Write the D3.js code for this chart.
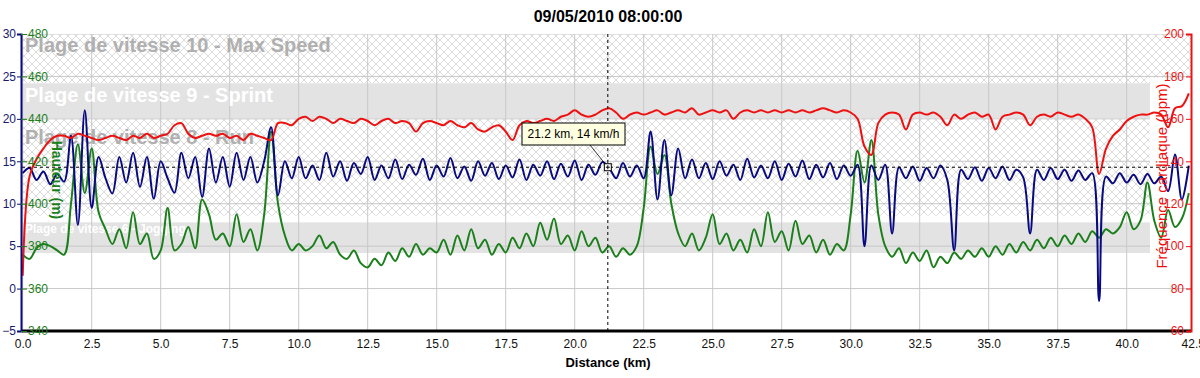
<!DOCTYPE html>
<html>
<head>
<meta charset="utf-8">
<script src="https://cdn.jsdelivr.net/npm/d3@7"></script>
<style>
body { margin: 0; background: #fff; }
text { font-family: "Liberation Sans", Arial, sans-serif; }
</style>
</head>
<body>
<script>
// values, one sample every 0.25 km
var stepKm = 0.25;
var speed = [13.6,14.2,12.8,13.8,12.3,13.5,12.6,18,7.5,21,9.5,15.5,13,11.2,15.5,12.5,16,12,15.5,10.6,
    15,13,11.3,16,13,15.5,10.8,16.5,12.5,15.5,12,16,12.8,15.5,12.5,15,19,11,15,13,
    15.5,13,14.5,12.8,16,13.2,15,12.7,14.8,13.5,15.5,12.8,14.5,13,15.2,12.9,14.6,13.4,15.3,12.8,
    14.5,13.2,15.4,13,14.4,12.7,15,13.3,14.8,12.9,14.5,13.1,15.2,12.8,14.6,13.3,15,12.9,14.7,13.2,
    15.1,12.8,14.6,13.4,14.9,14.2,13,14.8,13.2,14.5,13,18.5,10.5,17.5,11,16.5,13,15.2,13,14.8,
    12.9,15,13.3,14.6,12.8,15.3,13.1,14.5,13,15,12.8,14.7,13.2,15.1,12.9,14.6,13.1,14.8,12.9,14.5,
    13.3,14.6,5,14.5,12.8,14.6,6.5,14.3,13,14.4,12.7,14.2,13,14.5,12.8,4.5,14,12.9,14.3,12.7,
    14.2,13,14.4,12.8,14,13.1,6.5,14,12.8,14.2,12.9,14,12.7,13.9,12.8,13.6,-1.5,13.2,12.4,13.6,
    12.5,13.4,12.3,13.5,12.4,13.2,11.5,15.8,10.5,14.5];
var altitude = [376,374,379,381,380,378,376,400,428,405,426,396,388,381,388,379,396,381,386,374,
    378,398,378,381,389,379,402,395,383,386,380,395,382,388,378,395,434,400,385,378,
    381,378,380,385,379,382,376,374,378,372,370,374,371,377,373,379,375,381,376,379,
    377,383,376,385,378,388,379,383,376,381,377,384,379,386,380,391,383,393,381,385,
    378,387,380,384,377,380,375,379,376,380,398,427,414,423,400,386,380,386,378,384,
    395,381,386,378,383,377,388,380,396,382,387,378,392,381,385,377,383,376,381,378,
    395,425,410,430,395,380,375,379,372,377,373,378,370,375,372,377,374,378,375,379,
    375,380,376,381,377,382,378,383,379,384,380,385,381,386,382,387,384,388,386,389,
    396,388,392,410,392,384,397,389,393,405];
var heartRate = [86,133,141,146,150,152,152,151,153,152,151,150,151,152,151,150,152,151,153,151,
    152,153,157,158,153,151,152,153,152,153,151,152,150,153,152,151,150,158,158,157,
    160,161,159,161,160,158,160,159,158,160,159,157,159,160,158,159,158,154,158,159,
    158,157,159,157,156,158,155,154,156,157,154,150,157,159,158,159,160,159,161,162,
    164,162,161,162,164,165,163,160,162,163,162,163,164,162,163,164,163,165,162,163,
    164,163,164,160,163,164,163,164,163,164,163,164,163,164,163,164,165,164,163,164,
    163,160,147,143,158,162,163,162,155,162,163,162,163,161,157,162,160,162,163,161,
    162,155,161,162,163,162,157,161,162,161,163,162,161,162,160,156,134,146,152,155,
    159,161,162,162,163,162,156,165,166,172];

var xTicks = [0,2.5,5,7.5,10,12.5,15,17.5,20,22.5,25,27.5,30,32.5,35,37.5,40,42.5];
var speedTicks = [-5,0,5,10,15,20,25,30];
var altTicks = [340,360,380,400,420,440,460,480];
var hrTicks = [60,80,100,120,140,160,180,200];

// speed zones (km/h)
var zoneNames = ["Plage de vitesse 10 - Max Speed","Plage de vitesse 9 - Sprint","Plage de vitesse 8 - Run","Plage de vitesse 6 - Jogging"];
var zoneLow = [24.2,20.1,8.6,4.2];
var zoneHigh = [30,24.2,20.1,7.8];
var zoneSolid = [false,true,false,true];

var cursorKm = 21.2, cursorSpeed = 14.3;

var W = 1200, H = 378;
var pLeft = 22, pRight = 1191, pTop = 34, pBottom = 331;

var svg = d3.select("body").append("svg")
    .attr("width", W).attr("height", H);

var defs = svg.append("defs");
var pat = defs.append("pattern")
    .attr("id", "hatch")
    .attr("patternUnits", "userSpaceOnUse")
    .attr("width", 8).attr("height", 8);
pat.append("path")
    .attr("d", "M0,0L8,8M8,0L0,8")
    .attr("stroke", "#d2d2d2").attr("stroke-width", 0.8);
defs.append("clipPath").attr("id", "plot")
    .append("rect").attr("x", pLeft).attr("y", pTop)
    .attr("width", pRight - pLeft).attr("height", pBottom - pTop);

var x = d3.scaleLinear().domain([0, 42.5]).range([22.7, 1195.7]);
var ySpeed = d3.scaleLinear().domain([-5, 30]).range([pBottom, pTop]);
var yAlt = d3.scaleLinear().domain([340, 480]).range([pBottom, pTop]);
var yHr = d3.scaleLinear().domain([60, 200]).range([pBottom, pTop]);

var plot = svg.append("g").attr("clip-path", "url(#plot)");

// zones
zoneNames.forEach(function(name, i) {
    plot.append("rect")
        .attr("x", pLeft).attr("width", pRight - pLeft)
        .attr("y", ySpeed(zoneHigh[i]))
        .attr("height", ySpeed(zoneLow[i]) - ySpeed(zoneHigh[i]))
        .attr("fill", zoneSolid[i] ? "#e3e3e3" : "url(#hatch)");
});

// grid
plot.selectAll(".vgrid").data(xTicks).enter().append("line")
    .attr("x1", function(d) { return x(d); }).attr("x2", function(d) { return x(d); })
    .attr("y1", pTop).attr("y2", pBottom)
    .attr("stroke", "#c8c8c8").attr("stroke-width", 1);
plot.selectAll(".hgrid").data(speedTicks).enter().append("line")
    .attr("x1", pLeft).attr("x2", pRight)
    .attr("y1", function(d) { return ySpeed(d); }).attr("y2", function(d) { return ySpeed(d); })
    .attr("stroke", "#c8c8c8").attr("stroke-width", 1);

// white box kept free for the right axis title
plot.append("rect")
    .attr("x", 1150).attr("y", 78).attr("width", 41).attr("height", 196)
    .attr("fill", "#fff");

// zone labels
var labelSize = [20, 20, 20, 12];
var labelY = [52, 102, 144, 233];
var labelColor = ["#b0b0b0", "#ffffff", "#b0b0b0", "#ffffff"];
zoneNames.forEach(function(name, i) {
    plot.append("text")
        .attr("x", 25).attr("y", labelY[i])
        .attr("font-size", labelSize[i]).attr("font-weight", "bold")
        .attr("fill", labelColor[i])
        .text(name);
});

function series(values, y) {
    return d3.line()
        .x(function(d, i) { return x(i * stepKm); })
        .y(function(d) { return y(d); })
        .curve(d3.curveCatmullRom)(values);
}

plot.append("path").attr("d", series(altitude, yAlt))
    .attr("fill", "none").attr("stroke", "#1b7f1b").attr("stroke-width", 2);
plot.append("path").attr("d", series(speed, ySpeed))
    .attr("fill", "none").attr("stroke", "#0a0a80").attr("stroke-width", 2);
plot.append("path").attr("d", series(heartRate, yHr))
    .attr("fill", "none").attr("stroke", "#ee1111").attr("stroke-width", 2);

// axis titles
svg.append("text")
    .attr("transform", "translate(52,180) rotate(90)")
    .attr("text-anchor", "middle")
    .attr("font-size", 14).attr("font-weight", "bold").attr("fill", "#1b7f1b")
    .text("Hauteur (m)");
svg.append("text")
    .attr("transform", "translate(1167,176) rotate(-90)")
    .attr("text-anchor", "middle")
    .attr("font-size", 15).attr("fill", "#ee1111")
    .text("Fréquence cardiaque (bpm)");

// cursor
var cx = x(cursorKm), cy = ySpeed(cursorSpeed);
svg.append("line")
    .attr("x1", cx).attr("x2", cx)
    .attr("y1", pTop).attr("y2", pBottom)
    .attr("stroke", "#000").attr("stroke-dasharray", "3,3");
svg.append("line")
    .attr("x1", pLeft).attr("x2", pRight)
    .attr("y1", cy).attr("y2", cy)
    .attr("stroke", "#000").attr("stroke-dasharray", "3,3");
svg.append("line")
    .attr("x1", 590).attr("y1", 145).attr("x2", cx).attr("y2", cy)
    .attr("stroke", "#000").attr("stroke-width", 0.8);
svg.append("rect")
    .attr("x", cx - 3.5).attr("y", cy - 3.5).attr("width", 7).attr("height", 7)
    .attr("fill", "#fff").attr("stroke", "#000");
svg.append("path")
    .attr("d", "M" + (cx - 2) + "," + cy + "H" + (cx + 2) + "M" + cx + "," + (cy - 2) + "V" + (cy + 2))
    .attr("stroke", "#000");
svg.append("rect")
    .attr("x", 522).attr("y", 123).attr("width", 103).attr("height", 22)
    .attr("fill", "#ffffe1").attr("stroke", "#000");
svg.append("text")
    .attr("x", 573.5).attr("y", 138).attr("text-anchor", "middle")
    .attr("font-size", 12).text(cursorKm + " km, 14 km/h");

// x axis
var xAxis = svg.append("g")
    .attr("transform", "translate(0," + pBottom + ")")
    .call(d3.axisBottom(x).tickValues(xTicks).tickSize(0).tickPadding(8)
        .tickFormat(d3.format(".1f")));
xAxis.select(".domain").attr("stroke", "#000").attr("stroke-width", 3)
    .attr("d", "M" + pLeft + ",0H" + pRight);
xAxis.selectAll("text").attr("font-size", 12).attr("fill", "#111")
    .attr("font-family", "Liberation Sans, Arial, sans-serif")
    .attr("dx", function(d) { return d == 42.5 ? -3 : 0; });

svg.append("text")
    .attr("x", 608).attr("y", 367).attr("text-anchor", "middle")
    .attr("font-size", 13).attr("font-weight", "bold")
    .text("Distance (km)");

// speed axis
var sAxis = svg.append("g").attr("transform", "translate(21,0)")
    .call(d3.axisLeft(ySpeed).tickValues(speedTicks).tickSize(4).tickPadding(1));
sAxis.select(".domain").attr("stroke", "#0a0a80").attr("stroke-width", 2);
sAxis.selectAll("line").attr("stroke", "#0a0a80");
sAxis.selectAll("text").attr("font-size", 12).attr("fill", "#1a1a70")
    .attr("font-family", "Liberation Sans, Arial, sans-serif");

// altitude axis
var aAxis = svg.append("g").attr("transform", "translate(23,0)")
    .call(d3.axisRight(yAlt).tickValues(altTicks).tickSize(4).tickPadding(1));
aAxis.select(".domain").remove();
aAxis.selectAll("line").attr("stroke", "#1b7f1b").attr("x1", -2);
aAxis.selectAll("text").attr("font-size", 12).attr("fill", "#1b7f1b")
    .attr("font-family", "Liberation Sans, Arial, sans-serif");

// heart rate axis
var hAxis = svg.append("g").attr("transform", "translate(1191,0)")
    .call(d3.axisLeft(yHr).tickValues(hrTicks).tickSize(5).tickPadding(2));
hAxis.select(".domain").attr("stroke", "#ee1111").attr("stroke-width", 2);
hAxis.selectAll("line").attr("stroke", "#ee1111");
hAxis.selectAll("text").attr("font-size", 12).attr("fill", "#ee1111")
    .attr("font-family", "Liberation Sans, Arial, sans-serif");

svg.append("text")
    .attr("x", 608).attr("y", 22).attr("text-anchor", "middle")
    .attr("font-size", 16).attr("font-weight", "bold")
    .text("09/05/2010 08:00:00");
</script>
</body>
</html>
